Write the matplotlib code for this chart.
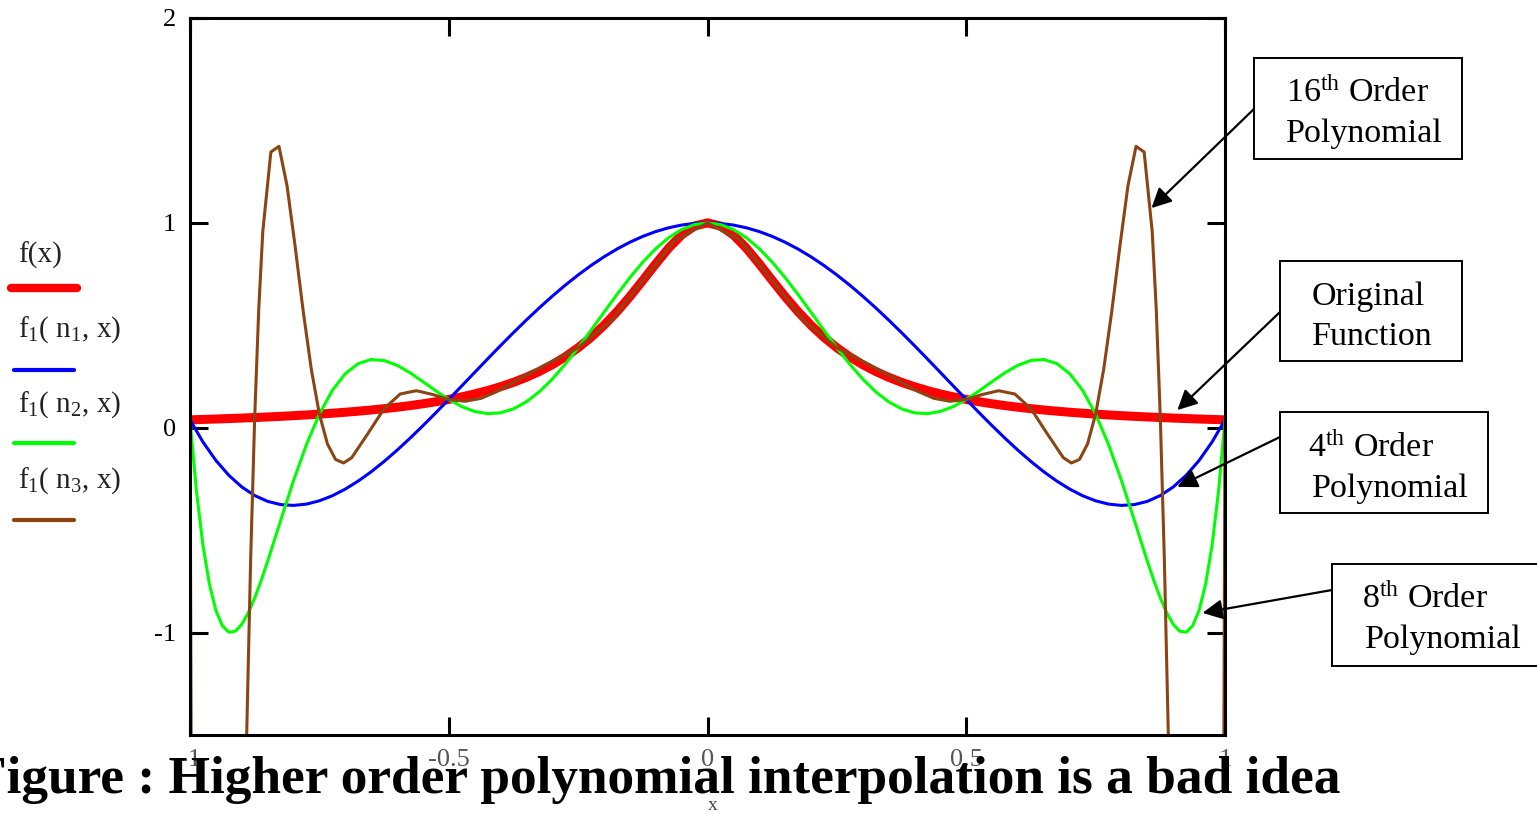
import matplotlib
matplotlib.use('Agg')
import matplotlib.pyplot as plt
from matplotlib.patches import Rectangle
from matplotlib.lines import Line2D

plt.rcParams['mathtext.fontset'] = 'custom'
plt.rcParams['mathtext.rm'] = 'Liberation Serif'
plt.rcParams['mathtext.it'] = 'Liberation Serif:italic'
plt.rcParams['mathtext.bf'] = 'Liberation Serif:bold'
plt.rcParams['font.family'] = ['Liberation Serif', 'DejaVu Serif']

# ---------------- data ----------------
x_grid = [-1.0, -0.975, -0.95, -0.925, -0.9, -0.875, -0.85, -0.825, -0.8, -0.775,
          -0.75, -0.725, -0.7, -0.675, -0.65, -0.625, -0.6, -0.575, -0.55, -0.525,
          -0.5, -0.475, -0.45, -0.425, -0.4, -0.375, -0.35, -0.325, -0.3, -0.275,
          -0.25, -0.225, -0.2, -0.175, -0.15, -0.125, -0.1, -0.075, -0.05, -0.025,
          0.0,
          0.025, 0.05, 0.075, 0.1, 0.125, 0.15, 0.175, 0.2, 0.225, 0.25,
          0.275, 0.3, 0.325, 0.35, 0.375, 0.4, 0.425, 0.45, 0.475, 0.5,
          0.525, 0.55, 0.575, 0.6, 0.625, 0.65, 0.675, 0.7, 0.725, 0.75,
          0.775, 0.8, 0.825, 0.85, 0.875, 0.9, 0.925, 0.95, 0.975, 1.0]

# original function f(x)
y_original = [0.0385, 0.0404, 0.0424, 0.0447, 0.0471, 0.0497, 0.0525, 0.0555, 0.0588, 0.0624,
              0.0664, 0.0707, 0.0755, 0.0807, 0.0865, 0.0929, 0.1, 0.1079, 0.1168, 0.1267,
              0.1379, 0.1506, 0.1649, 0.1813, 0.2, 0.2215, 0.2462, 0.2747, 0.3077, 0.3459,
              0.3902, 0.4414, 0.5, 0.5664, 0.64, 0.7191, 0.8, 0.8767, 0.9412, 0.9846,
              1.0,
              0.9846, 0.9412, 0.8767, 0.8, 0.7191, 0.64, 0.5664, 0.5, 0.4414, 0.3902,
              0.3459, 0.3077, 0.2747, 0.2462, 0.2215, 0.2, 0.1813, 0.1649, 0.1506, 0.1379,
              0.1267, 0.1168, 0.1079, 0.1, 0.0929, 0.0865, 0.0807, 0.0755, 0.0707, 0.0664,
              0.0624, 0.0588, 0.0555, 0.0525, 0.0497, 0.0471, 0.0447, 0.0424, 0.0404, 0.0385]

# 4th order polynomial f1(n1, x)
y_order4 = [0.0385, -0.0697, -0.1596, -0.2323, -0.2891, -0.3312, -0.3595, -0.3752, -0.3793, -0.3729,
            -0.3568, -0.3322, -0.2997, -0.2605, -0.2153, -0.1648, -0.1101, -0.0517, 0.0096, 0.073,
            0.1379, 0.2037, 0.2698, 0.3356, 0.4005, 0.4641, 0.5258, 0.5852, 0.6419, 0.6955,
            0.7456, 0.792, 0.8342, 0.8721, 0.9054, 0.934, 0.9576, 0.976, 0.9893, 0.9973,
            1.0,
            0.9973, 0.9893, 0.976, 0.9576, 0.934, 0.9054, 0.8721, 0.8342, 0.792, 0.7456,
            0.6955, 0.6419, 0.5852, 0.5258, 0.4641, 0.4005, 0.3356, 0.2698, 0.2037, 0.1379,
            0.073, 0.0096, -0.0517, -0.1101, -0.1648, -0.2153, -0.2605, -0.2997, -0.3322, -0.3568,
            -0.3729, -0.3793, -0.3752, -0.3595, -0.3312, -0.2891, -0.2323, -0.1596, -0.0697, 0.0385]

# 8th order polynomial f1(n2, x)
x_order8 = [-1.0, -0.9875, -0.975, -0.9625, -0.95, -0.9375, -0.925, -0.9125, -0.9, -0.8875,
            -0.875, -0.8625, -0.85, -0.825, -0.8, -0.775, -0.75, -0.725, -0.7, -0.675,
            -0.65, -0.625, -0.6, -0.575, -0.55, -0.525, -0.5, -0.475, -0.45, -0.425,
            -0.4, -0.375, -0.35, -0.325, -0.3, -0.275, -0.25, -0.225, -0.2, -0.175,
            -0.15, -0.125, -0.1, -0.075, -0.05, -0.025, 0.0,
            0.025, 0.05, 0.075, 0.1, 0.125, 0.15, 0.175, 0.2, 0.225, 0.25,
            0.275, 0.3, 0.325, 0.35, 0.375, 0.4, 0.425, 0.45, 0.475, 0.5,
            0.525, 0.55, 0.575, 0.6, 0.625, 0.65, 0.675, 0.7, 0.725, 0.75,
            0.775, 0.8, 0.825, 0.85, 0.8625, 0.875, 0.8875, 0.9, 0.9125, 0.925,
            0.9375, 0.95, 0.9625, 0.975, 0.9875, 1.0]
y_order8 = [0.0385, -0.3105, -0.5741, -0.764, -0.8916, -0.9667, -0.9981, -0.9935, -0.96, -0.9041,
            -0.8313, -0.7456, -0.6521, -0.4537, -0.2587, -0.0822, 0.0664, 0.1821, 0.2638, 0.3128,
            0.3328, 0.3282, 0.3049, 0.2686, 0.2251, 0.1799, 0.1379, 0.1033, 0.0794, 0.0686,
            0.0726, 0.092, 0.1266, 0.1756, 0.2374, 0.3098, 0.3902, 0.4759, 0.5636, 0.6503,
            0.7328, 0.8083, 0.874, 0.9277, 0.9674, 0.9918, 1.0,
            0.9918, 0.9674, 0.9277, 0.874, 0.8083, 0.7328, 0.6503, 0.5636, 0.4759, 0.3902,
            0.3098, 0.2374, 0.1756, 0.1266, 0.092, 0.0726, 0.0686, 0.0794, 0.1033, 0.1379,
            0.1799, 0.2251, 0.2686, 0.3049, 0.3282, 0.3328, 0.3128, 0.2638, 0.1821, 0.0664,
            -0.0822, -0.2587, -0.4537, -0.6521, -0.7456, -0.8313, -0.9041, -0.96, -0.9935, -0.9981,
            -0.9667, -0.8916, -0.764, -0.5741, -0.3105, 0.0385]

# 16th order polynomial f1(n3, x)
x_order16 = [-1.0, -0.984375, -0.9375, -0.90625, -0.890625, -0.8828125, -0.875, -0.8671875,
             -0.859375, -0.84375, -0.828125, -0.8125, -0.796875, -0.78125, -0.765625, -0.75,
             -0.734375, -0.71875, -0.703125, -0.6875, -0.65625, -0.625, -0.59375, -0.5625,
             -0.53125, -0.5, -0.46875, -0.4375, -0.40625, -0.375, -0.3125, -0.25, -0.1875,
             -0.125, -0.0625, 0.0,
             0.0625, 0.125, 0.1875, 0.25, 0.3125, 0.375, 0.40625, 0.4375, 0.46875, 0.5,
             0.53125, 0.5625, 0.59375, 0.625, 0.65625, 0.6875, 0.703125, 0.71875, 0.734375,
             0.75, 0.765625, 0.78125, 0.796875, 0.8125, 0.828125, 0.84375, 0.859375,
             0.8671875, 0.875, 0.8828125, 0.890625, 0.90625, 0.9375, 0.984375, 1.0]
y_order16 = [0.0385, -11.25, -10.17, -3.82, -1.517, -0.644, 0.0497, 0.5774,
             0.9565, 1.3458, 1.3736, 1.1818, 0.8855, 0.5687, 0.2858, 0.0664,
             -0.0794, -0.155, -0.1721, -0.1461, -0.0286, 0.0929, 0.1647, 0.1806,
             0.1622, 0.1379, 0.129, 0.1434, 0.1774, 0.2215, 0.3075, 0.3902, 0.5207,
             0.7191, 0.9162, 1.0,
             0.9162, 0.7191, 0.5207, 0.3902, 0.3075, 0.2215, 0.1774, 0.1434, 0.129, 0.1379,
             0.1622, 0.1806, 0.1647, 0.0929, -0.0286, -0.1461, -0.1721, -0.155, -0.0794,
             0.0664, 0.2858, 0.5687, 0.8855, 1.1818, 1.3736, 1.3458, 0.9565,
             0.5774, 0.0497, -0.644, -1.517, -3.82, -10.17, -11.25, 0.0385]

x_ticks = [-1, -0.5, 0, 0.5, 1]
x_tick_labels = ['-1', '-0.5', '0', '0.5', '1']
y_ticks = [-1, 0, 1, 2]
y_tick_labels = ['-1', '0', '1', '2']

legend_labels = [r'f(x)', r'$\mathrm{f_1(\ n_1,\,x)}$', r'$\mathrm{f_1(\ n_2,\,x)}$', r'$\mathrm{f_1(\ n_3,\,x)}$']
box_texts = [r'16$^{\mathrm{th}}$ Order', r'Original', r'4$^{\mathrm{th}}$ Order', r'8$^{\mathrm{th}}$ Order']
box_texts2 = ['Polynomial', 'Function', 'Polynomial', 'Polynomial']
box_targets = [(0.858, 1.072), (0.908, 0.086), (0.908, -0.289), (0.9565, -0.904)]
title = 'Figure : Higher order polynomial interpolation is a bad idea'

colors = ['#ff0000', '#0000ff', '#00ff00', '#8b4513']
widths = [6.5, 2.2, 2.2, 2.2]

# ---------------- figure ----------------
W, H = 1537, 814
def fx(px):
    return px / W
def fy(py):
    return 1 - py / H

fig = plt.figure(figsize=(W / 100, H / 100), dpi=100)
ax = fig.add_axes([fx(190), fy(735), (1225 - 190) / W, (735 - 18) / H])
ax.set_xlim(-1, 1)
ax.set_ylim(-1.5, 2)

ax.plot(x_grid, y_original, color=colors[0], lw=widths[0], solid_capstyle='butt', zorder=2)
ax.plot(x_grid, y_order4, color=colors[1], lw=widths[1], zorder=3)
ax.plot(x_order8, y_order8, color=colors[2], lw=widths[2], zorder=4)
ax.plot(x_order16, y_order16, color=colors[3], lw=widths[3], zorder=5)

for s in ax.spines.values():
    s.set_linewidth(2.2)
    s.set_zorder(6)
ax.set_xticks(x_ticks)
ax.set_xticklabels(x_tick_labels)
ax.set_yticks(y_ticks)
ax.set_yticklabels(y_tick_labels)
ax.tick_params(direction='in', length=13, width=2.2, top=True, right=True,
               labelsize=19, zorder=6)
ax.tick_params(axis='y', pad=10)
ax.tick_params(axis='x', pad=10, labelcolor='#555555')

# x axis label
fig.text(fx(713), fy(806), 'x', ha='center', va='center', fontsize=14, color='#444444')

# legend on the left
text_base = [263, 337, 412, 488]
line_y = [288, 370, 443, 520]
line_x = [(11, 77), (14, 74), (14, 74), (14, 74)]
for lab, tb, ly, (x0, x1), c, w in zip(legend_labels, text_base, line_y, line_x, colors, widths):
    fig.text(fx(18), fy(tb), lab, ha='left', va='baseline', fontsize=21, color='#222222')
    fig.add_artist(Line2D([fx(x0), fx(x1)], [fy(ly), fy(ly)], color=c,
                          lw=(6 if w > 3 else 3), solid_capstyle='round'))

# annotation boxes
boxes = [(1254, 58, 1462, 159), (1280, 261, 1462, 361), (1280, 412, 1488, 513), (1332, 564, 1540, 666)]
line1 = [(1286, 102), (1312, 305), (1308, 457), (1362, 608)]
line2 = [(1286, 142), (1312, 345), (1312, 497), (1365, 648)]
starts = [(1255, 108), (1280, 312), (1280, 437), (1332, 590)]
for (l, t, r, b), t1, t2, p1, p2, st, tgt in zip(boxes, box_texts, box_texts2, line1, line2, starts, box_targets):
    fig.add_artist(Rectangle((fx(l), fy(b)), (r - l) / W, (b - t) / H, transform=fig.transFigure,
                             facecolor='white', edgecolor='black', lw=1.4, zorder=7))
    fig.text(fx(p1[0]), fy(p1[1]), t1, ha='left', va='baseline', fontsize=24.5, zorder=8)
    fig.text(fx(p2[0]), fy(p2[1]), t2, ha='left', va='baseline', fontsize=24.5, zorder=8)
    ax.annotate('', xy=tgt, xycoords='data', xytext=(fx(st[0]), fy(st[1])),
                textcoords='figure fraction', annotation_clip=False,
                arrowprops=dict(arrowstyle='-|>', color='black', lw=1.6, mutation_scale=30,
                                shrinkA=0, shrinkB=0), zorder=9)

# caption overlapping tick labels
fig.text(fx(1340), fy(793), title, ha='right', va='baseline', fontsize=38.4,
         fontweight='bold', family='Liberation Serif', zorder=10)

fig.savefig('out.png', dpi=100, facecolor='white')
